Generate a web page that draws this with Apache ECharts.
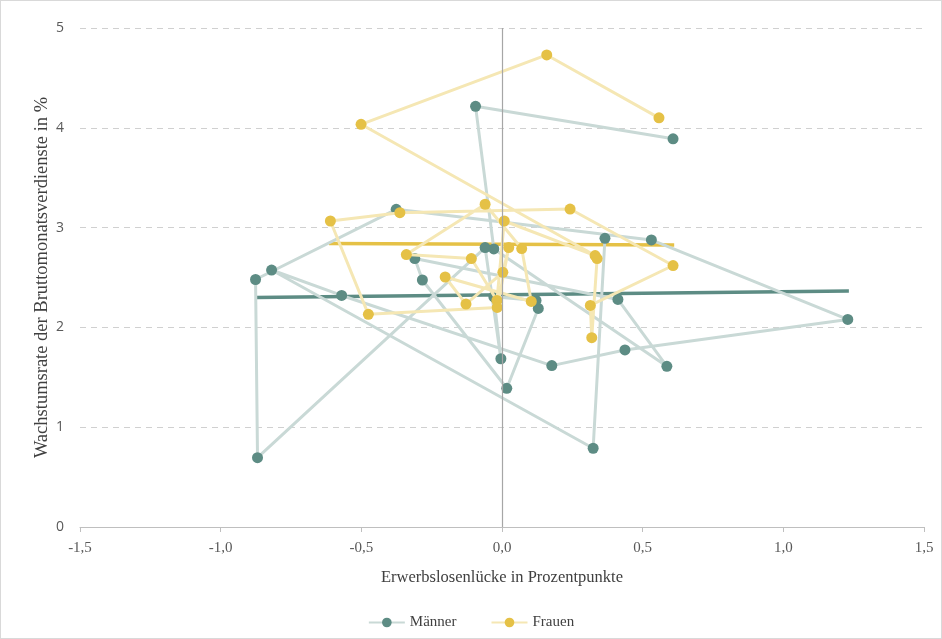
<!DOCTYPE html>
<html>
<head>
<meta charset="utf-8">
<script src="https://cdn.jsdelivr.net/npm/echarts@6/dist/echarts.min.js"></script>
<style>
  html, body { margin: 0; padding: 0; background: #fff; }
  #main { width: 942px; height: 639px; box-sizing: border-box; border: 1px solid #d9d9d9; }
</style>
</head>
<body>
<div id="main"></div>
<script>
// Punkte in zeitlicher Reihenfolge: [Erwerbslosenlücke, Wachstumsrate]
const maenner = [
  [0.608, 3.89], [-0.094, 4.215], [-0.029, 2.786], [0.586, 1.61], [0.412, 2.28],
  [-0.310, 2.69], [-0.283, 2.475], [0.017, 1.39], [0.129, 2.19], [0.121, 2.27],
  [-0.029, 2.307], [-0.004, 1.686], [-0.060, 2.80], [-0.869, 0.695], [-0.876, 2.48],
  [-0.376, 3.183], [0.531, 2.876], [1.229, 2.08], [0.437, 1.774], [0.177, 1.617],
  [-0.570, 2.32], [-0.819, 2.575], [0.324, 0.789], [0.366, 2.893]
];
const frauen = [
  [0.558, 4.10], [0.159, 4.73], [-0.501, 4.035], [0.331, 2.72], [0.008, 3.066],
  [-0.018, 2.27], [-0.109, 2.69], [-0.340, 2.73], [-0.060, 3.234], [0.070, 2.79],
  [0.104, 2.26], [-0.202, 2.505], [-0.128, 2.234], [0.003, 2.552], [0.024, 2.80],
  [-0.017, 2.20], [-0.475, 2.131], [-0.610, 3.066], [-0.363, 3.149], [0.242, 3.186],
  [0.608, 2.62], [0.314, 2.22], [0.319, 1.897], [0.338, 2.69]
];
// lineare Trends
const trendMaenner = [[-0.876, 2.30], [1.233, 2.365]];
const trendFrauen = [[-0.615, 2.84], [0.612, 2.825]];

const xTicks = [-1.5, -1.0, -0.5, 0.0, 0.5, 1.0, 1.5];
const yTicks = [0, 1, 2, 3, 4, 5];

const tealDark = '#5d8c84';
const tealLight = '#c9d9d6';
const gelbDark = '#e5c146';
const gelbLight = '#f5e7b4';

const chart = echarts.init(document.getElementById('main'));

const option = {
  animation: false,
  backgroundColor: '#fff',
  grid: { left: 79, right: 17, top: 27, bottom: 111 },
  legend: {
    data: ['Männer', 'Frauen'],
    bottom: 3,
    left: 'center',
    itemWidth: 36,
    itemHeight: 12,
    itemGap: 34,
    textStyle: { fontFamily: 'Liberation Serif', fontSize: 15, color: '#404040' }
  },
  xAxis: {
    type: 'value',
    min: xTicks[0],
    max: xTicks[xTicks.length - 1],
    interval: 0.5,
    name: 'Erwerbslosenlücke in Prozentpunkte',
    nameLocation: 'middle',
    nameGap: 42,
    nameTextStyle: { fontFamily: 'Liberation Serif', fontSize: 16.5, color: '#404040' },
    axisLine: { onZero: false, lineStyle: { color: '#bfbfbf', width: 1 } },
    axisTick: { show: true, length: 5, lineStyle: { color: '#bfbfbf' } },
    splitLine: { show: false },
    axisLabel: {
      fontFamily: 'Liberation Serif', fontSize: 15, color: '#595959', margin: 14,
      formatter: v => v.toFixed(1).replace('.', ',')
    }
  },
  yAxis: {
    type: 'value',
    min: yTicks[0],
    max: yTicks[yTicks.length - 1],
    interval: 1,
    name: 'Wachstumsrate der Bruttomonatsverdienste in %',
    nameLocation: 'middle',
    nameGap: 28,
    nameMoveOverlap: false,
    nameTextStyle: { fontFamily: 'Liberation Serif', fontSize: 18.5, color: '#404040' },
    axisLine: { show: false },
    axisTick: { show: false },
    axisLabel: { fontFamily: 'Open Sans', fontSize: 14, color: '#595959', margin: 16 },
    splitLine: { lineStyle: { color: '#d0d0d0', type: [6, 5], width: 1 } }
  },
  series: [
    {
      name: 'Trend Männer', type: 'line', data: trendMaenner, z: 2,
      symbol: 'none', lineStyle: { color: tealDark, width: 3.5 },
      markLine: {
        silent: true, symbol: 'none', label: { show: false },
        lineStyle: { color: '#a6a6a6', type: 'solid', width: 1.2 },
        data: [{ xAxis: 0 }]
      }
    },
    {
      name: 'Trend Frauen', type: 'line', data: trendFrauen, z: 2,
      symbol: 'none', lineStyle: { color: gelbDark, width: 3.5 }
    },
    {
      name: 'Männer', type: 'line', data: maenner, z: 3,
      symbol: 'circle', symbolSize: 11,
      itemStyle: { color: tealDark },
      lineStyle: { color: tealLight, width: 3 }
    },
    {
      name: 'Frauen', type: 'line', data: frauen, z: 4,
      symbol: 'circle', symbolSize: 11,
      itemStyle: { color: gelbDark },
      lineStyle: { color: gelbLight, width: 3 }
    }
  ]
};

option && chart.setOption(option);
</script>
</body>
</html>
